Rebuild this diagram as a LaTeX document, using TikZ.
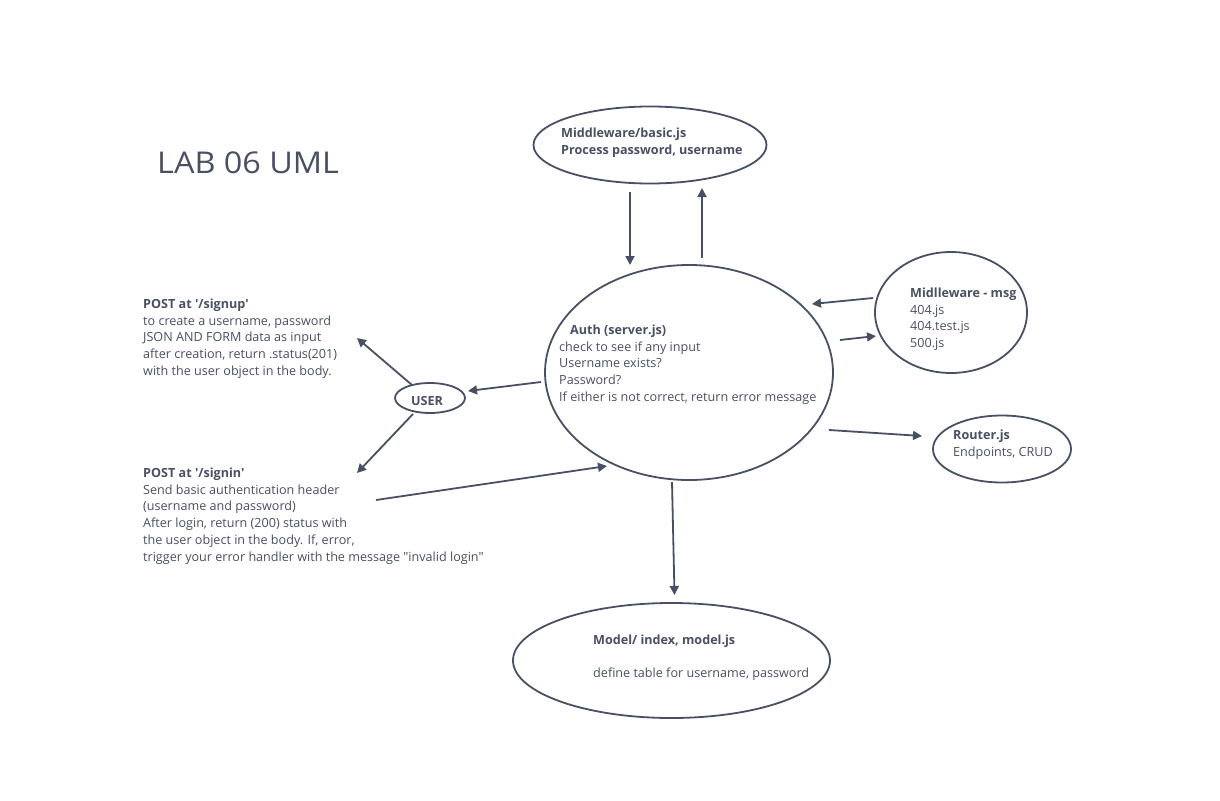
\documentclass[tikz,border=0pt]{standalone}
\usepackage{fontspec}
\setmainfont{Open Sans}
\newfontfamily\titlefont{Open Sans}[FakeStretch=1.08]
\usetikzlibrary{shapes.geometric,arrows.meta}
\definecolor{ink}{RGB}{73,80,99}
\begin{document}
\begin{tikzpicture}[x=1pt,y=-1pt,
  bub/.style 2 args={draw=ink,line width=1.8pt,ellipse,inner sep=0pt,minimum width=#1,minimum height=#2},
  txt/.style={text=ink,align=left,inner sep=0pt,anchor=north west,font=\fontsize{12.6}{16.8}\selectfont},
  arr/.style={draw=ink,line width=1.8pt,-{Triangle[length=9pt,width=9pt]}}
]
\fill[white] (0,0) rectangle (1220,800);
\useasboundingbox (0,0) rectangle (1220,800);

% title
\node[text=ink,inner sep=0pt,anchor=west,font=\titlefont\fontsize{30}{34}\selectfont] (title) at (157,162.5) {LAB 06 UML};

% ellipses
\node[bub={233pt}{77pt}] (basic) at (650,145) {};
\node[bub={288pt}{215pt}] (auth) at (689,372.5) {};
\node[bub={152pt}{121pt}] (msg) at (951,312.5) {};
\node[bub={138pt}{67pt}] (router) at (1002,449) {};
\node[bub={70pt}{30pt}] (user) at (430,398) {};
\node[bub={317pt}{115pt}] (model) at (671.5,660.5) {};

% texts
\node[txt] (basictxt) at (561,127.5) {\textbf{Middleware/basic.js}\\\textbf{Process password, username}};
\node[txt] (authtxt) at (559,324.5) {\hspace{11pt}\textbf{Auth (server.js)}\\check to see if any input\\Username exists?\\Password?\\If either is not correct, return error message};
\node[txt] (msgtxt) at (910,287.5) {\textbf{Midlleware - msg}\\404.js\\404.test.js\\500.js};
\node[txt] (routertxt) at (953,429.5) {\textbf{Router.js}\\Endpoints, CRUD};
\node[text=ink,inner sep=0pt,font=\fontsize{12.6}{16}\selectfont\bfseries] (usertxt) at (427,401) {USER};
\node[txt] (modeltxt) at (593,634.5) {\textbf{Model/ index, model.js}\\[16.5pt]define table for username, password};
\node[txt] (signup) at (143,298.5) {\textbf{POST at \textquotesingle/signup\textquotesingle}\\to create a username, password\\JSON AND FORM data as input\\after creation, return .status(201)\\with the user object in the body.};
\node[txt] (signin) at (143,467.5) {\textbf{POST at \textquotesingle/signin\textquotesingle}\\Send basic authentication header\\(username and password)\\After login, return (200) status with\\the user object in the body. If, error,\\trigger your error handler with the message \textquotedbl invalid login\textquotedbl};

% connectors
\draw[arr] ([shift={(-20,47)}]basic.center) -- ([shift={(-59,-107.5)}]auth.center);
\draw[arr] ([shift={(13,-114.5)}]auth.center) -- ([shift={(52,43)}]basic.center);
\draw[arr] ([shift={(-78,-14.5)}]msg.center) -- ([shift={(123,-68.5)}]auth.center);
\draw[arr] ([shift={(151,-32.5)}]auth.center) -- ([shift={(-75,23.5)}]msg.center);
\draw[arr] ([shift={(140,57.5)}]auth.center) -- ([shift={(-80,-13)}]router.center);
\draw[arr] ([shift={(-148,9.5)}]auth.center) -- ([shift={(38,-7)}]user.center);
\draw[arr] ([shift={(-18,-13)}]user.center) -- ([shift={(214,39.5)}]signup.north west);
\draw[arr] ([shift={(-17,16)}]user.center) -- ([shift={(214,5.5)}]signin.north west);
\draw[arr] ([shift={(233,32.5)}]signin.north west) -- ([shift={(-82,93.5)}]auth.center);
\draw[arr] ([shift={(-17,109.5)}]auth.center) -- ([shift={(3,-65.5)}]model.center);
\end{tikzpicture}
\end{document}
